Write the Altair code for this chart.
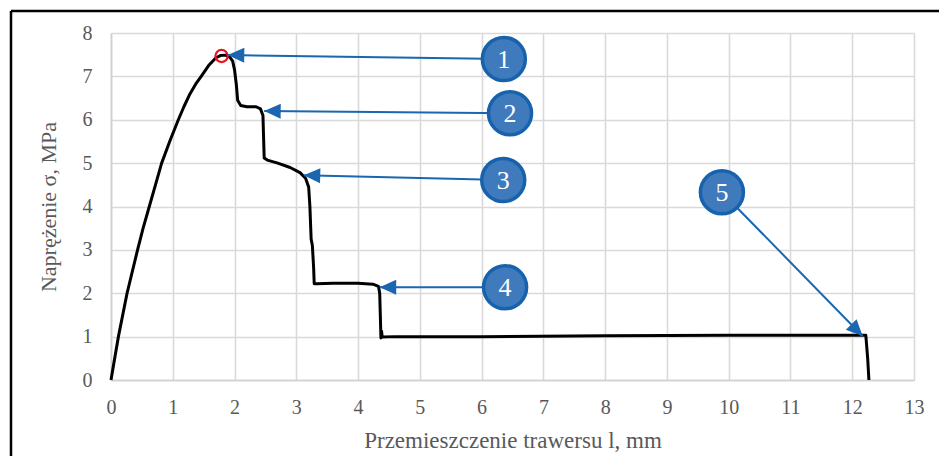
import math
import altair as alt
import pandas as pd

# ---- data ----
curve_x = [0, 0.12, 0.26, 0.43, 0.52, 0.62, 0.72, 0.82, 0.95, 1.09, 1.18, 1.28, 1.37,
           1.46, 1.58, 1.7, 1.77, 1.85, 1.92, 1.97,
           2.0, 2.03, 2.05, 2.1, 2.2, 2.35, 2.42, 2.46, 2.47, 2.48, 2.53, 2.7, 2.9,
           3.06, 3.15, 3.2, 3.22, 3.24, 3.26, 3.28, 3.29, 3.33, 3.6, 4.0, 4.24, 4.33,
           4.35, 4.36, 4.37, 4.38, 4.39, 4.6, 6.0, 8.0, 10.0, 12.2, 12.22, 12.25, 12.27]
curve_y = [0, 1.0, 2.0, 3.0, 3.5, 4.0, 4.5, 5.0, 5.5, 6.0, 6.3, 6.6, 6.82,
           7.0, 7.25, 7.43, 7.48, 7.49, 7.45, 7.35,
           7.15, 6.8, 6.45, 6.33, 6.3, 6.3, 6.25, 6.1, 5.6, 5.12, 5.07, 5.0, 4.9,
           4.78, 4.65, 4.45, 4.0, 3.25, 3.1, 2.6, 2.22, 2.22, 2.23, 2.23, 2.21, 2.16,
           2.0, 1.5, 0.97, 1.13, 0.99, 1.0, 1.0, 1.02, 1.03, 1.03, 1.03, 0.5, 0.0]

peak_x = [1.79]
peak_y = [7.47]

labels = ["1", "2", "3", "4", "5"]
bubble_x = [6.36, 6.46, 6.35, 6.38, 9.89]
bubble_y = [7.40, 6.15, 4.61, 2.14, 4.33]
tip_x = [1.89, 2.48, 3.12, 4.35, 12.17]
tip_y = [7.49, 6.20, 4.72, 2.14, 1.01]

x_ticks = list(range(0, 14))
y_ticks = list(range(0, 9))

# ---- layout ----
W, H = 803, 347
XMAX, YMAX = 13, 8
px_x = W / XMAX
px_y = H / YMAX

curve = pd.DataFrame({"x": curve_x, "y": curve_y, "i": range(len(curve_x))})
peak = pd.DataFrame({"x": peak_x, "y": peak_y})

ang = []
for bx, by, tx, ty in zip(bubble_x, bubble_y, tip_x, tip_y):
    dx = (tx - bx) * px_x
    dy = -(ty - by) * px_y
    ang.append(math.degrees(math.atan2(dx, -dy)) % 360)
call = pd.DataFrame({"lab": labels, "bx": bubble_x, "by": bubble_y,
                     "tx": tip_x, "ty": tip_y, "ang": ang})

xs = alt.Scale(domain=[0, XMAX], nice=False, zero=False)
ys = alt.Scale(domain=[0, YMAX], nice=False, zero=False)

BLUE = "#1a66b0"

base = alt.Chart(curve)

line = base.mark_line(color="black", strokeWidth=3, strokeJoin="round").encode(
    x=alt.X("x:Q", scale=xs,
            axis=alt.Axis(values=x_ticks, format="d", labelFlush=False,
                          title="Przemieszczenie trawersu l, mm",
                          titlePadding=12, labelPadding=17)),
    y=alt.Y("y:Q", scale=ys,
            axis=alt.Axis(values=y_ticks, format="d", labelFlush=False,
                          title="Naprężenie σ, MPa",
                          titlePadding=22, labelPadding=19)),
    order="i:O",
)

peak_mark = alt.Chart(peak).mark_point(shape="circle", size=150, color="#e8141b",
                                       strokeWidth=2.2, filled=False, opacity=1).encode(
    x=alt.X("x:Q", scale=xs), y=alt.Y("y:Q", scale=ys))

arrows = alt.Chart(call).mark_rule(color=BLUE, strokeWidth=2).encode(
    x=alt.X("bx:Q", scale=xs), y=alt.Y("by:Q", scale=ys),
    x2="tx:Q", y2="ty:Q")

heads = alt.Chart(call).mark_point(shape="M0,0L-0.5,1.1L0.5,1.1Z", size=900,
                                   filled=True, color=BLUE, opacity=1,
                                   strokeWidth=0).encode(
    x=alt.X("tx:Q", scale=xs), y=alt.Y("ty:Q", scale=ys),
    angle=alt.Angle("ang:Q", scale=None))

bubbles = alt.Chart(call).mark_point(shape="circle", size=1850, filled=True,
                                     fill="#3f7abd", stroke="#1762ad",
                                     strokeWidth=3.5, opacity=1).encode(
    x=alt.X("bx:Q", scale=xs), y=alt.Y("by:Q", scale=ys))

btext = alt.Chart(call).mark_text(font="Liberation Serif", fontSize=26,
                                  color="white", baseline="middle",
                                  align="center", dy=1).encode(
    x=alt.X("bx:Q", scale=xs), y=alt.Y("by:Q", scale=ys), text="lab:N")

one = pd.DataFrame({"a": [0]})
border_top = alt.Chart(one).mark_rule(color="black", strokeWidth=2.5).encode(
    x=alt.value(-100), x2=alt.value(W + 25), y=alt.value(-22))
border_left = alt.Chart(one).mark_rule(color="black", strokeWidth=2.5).encode(
    x=alt.value(-100), y=alt.value(-22), y2=alt.value(H + 76))

chart = alt.layer(line, peak_mark, arrows, heads, bubbles, btext,
                  border_top, border_left).properties(
    width=W, height=H,
    autosize=alt.AutoSizeParams(type="none"),
    padding={"left": 103, "top": 25, "right": 25, "bottom": 76},
).configure_view(strokeWidth=0).configure_axis(
    grid=True, gridColor="#d9d9d9", gridWidth=1.6,
    domainColor="#d0d0d0", domainWidth=1.6, ticks=False,
    labelFont="Liberation Serif", labelFontSize=20, labelColor="#595959",
    titleFont="Liberation Serif", titleFontSize=23, titleFontWeight="normal",
    titleColor="#595959",
).configure_axisY(titleFontSize=22)

chart.save("out.html", embed_options={"renderer": "svg", "actions": False})
